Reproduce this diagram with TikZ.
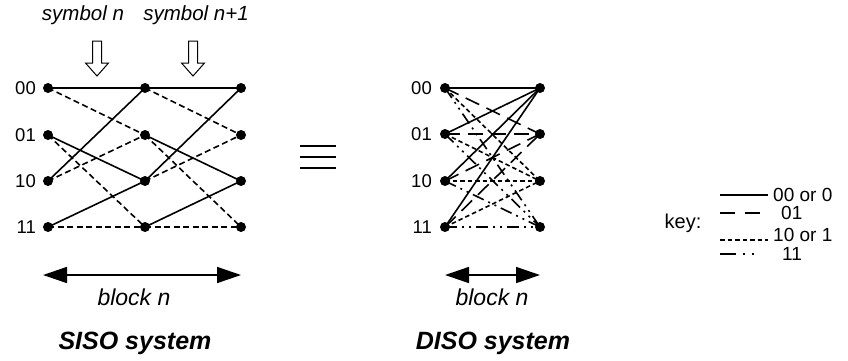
\documentclass[tikz,border=0pt]{standalone}
\usepackage{fontspec}
\setmainfont{Liberation Sans}
\usetikzlibrary{arrows.meta}
\begin{document}
\begin{tikzpicture}[x=1pt,y=-1pt,
  dot/.style={circle,fill=black,inner sep=0pt,minimum size=10pt},
  lbl/.style={anchor=east,inner sep=0pt,font=\fontsize{18.5}{20}\selectfont},
  tr/.style={line width=1.6pt},
  sisodash/.style={tr,dash pattern=on 6pt off 3.5pt},
  styA/.style={tr},
  styB/.style={tr,dash pattern=on 15pt off 8pt},
  styC/.style={tr,dash pattern=on 4.5pt off 3pt},
  styD/.style={tr,dash pattern=on 12pt off 5pt on 2pt off 5pt on 2pt off 5pt},
  itext/.style={inner sep=0pt,font=\fontsize{20.5}{22}\selectfont\itshape},
  blocktext/.style={inner sep=0pt,font=\fontsize{23}{25}\selectfont\itshape},
  btext/.style={inner sep=0pt,font=\fontsize{25}{27}\selectfont\bfseries\itshape},
  keytext/.style={inner sep=0pt,anchor=west,font=\fontsize{19}{20}\selectfont},
  blockarrow/.style={line width=1.6pt,{Triangle[length=24pt,width=16pt]}-{Triangle[length=24pt,width=16pt]}},
  openarrow/.style={line width=1pt,draw=black,fill=white,line join=miter}
]
\useasboundingbox (0,0) rectangle (848,360);

% ---------- SISO trellis ----------
\foreach \c/\x in {a/48,b/145,c/241}{
  \foreach \r/\y in {0/88,1/135,2/181,3/227}{
    \node[dot] (s\c\r) at (\x,\y) {};
  }
}
\node[lbl] (sl0) at (36,88) {00};
\node[lbl] (sl1) at (36,135) {01};
\node[lbl] (sl2) at (36,181) {10};
\node[lbl] (sl3) at (36,227) {11};

\foreach \p/\q in {a/b,b/c}{
  \draw[tr] (s\p0.center) -- (s\q0.center);
  \draw[sisodash] (s\p0.center) -- (s\q1.center);
  \draw[tr] (s\p1.center) -- (s\q2.center);
  \draw[sisodash] (s\p1.center) -- (s\q3.center);
  \draw[tr] (s\p2.center) -- (s\q0.center);
  \draw[sisodash] (s\p2.center) -- (s\q1.center);
  \draw[tr] (s\p3.center) -- (s\q2.center);
  \draw[sisodash] (s\p3.center) -- (s\q3.center);
}

% open arrows
\foreach \x in {97,193}{
  \draw[openarrow] (\x-4.5,41) -- (\x+4.5,41) -- (\x+4.5,63) -- (\x+11.5,63)
     -- (\x,76) -- (\x-11.5,63) -- (\x-4.5,63) -- cycle;
}
\node[itext] (symn) at (83,15) {symbol n};
\node[itext] (symn1) at (196,15) {symbol n+1};

% block arrow SISO
\coordinate (sba1) at (43,275);
\coordinate (sba2) at (241,275);
\draw[blockarrow] (sba1) -- (sba2);
\node[blocktext] (sblock) at (134,297) {block n};
\node[btext] (siso) at (135,343) {SISO system};

% equivalence sign
\coordinate (e1) at (300,146); \coordinate (e1b) at (336,146);
\coordinate (e2) at (300,157); \coordinate (e2b) at (336,157);
\coordinate (e3) at (300,168); \coordinate (e3b) at (336,168);
\draw[line width=1.3pt] (e1) -- (e1b) (e2) -- (e2b) (e3) -- (e3b);

% ---------- DISO trellis ----------
\foreach \c/\x in {L/445,R/540}{
  \foreach \r/\y in {0/88,1/134,2/181,3/227}{
    \node[dot] (d\c\r) at (\x,\y) {};
  }
}
\node[lbl] (dl0) at (432,88) {00};
\node[lbl] (dl1) at (432,134) {01};
\node[lbl] (dl2) at (432,181) {10};
\node[lbl] (dl3) at (432,227) {11};

\foreach \i in {0,1,2,3}{
  \draw[styA] (dL\i.center) -- (dR0.center);
  \draw[styB] (dL\i.center) -- (dR1.center);
  \draw[styC] (dL\i.center) -- (dR2.center);
  \draw[styD] (dL\i.center) -- (dR3.center);
}

\coordinate (dba1) at (445,275);
\coordinate (dba2) at (540,275);
\draw[blockarrow] (dba1) -- (dba2);
\node[blocktext] (dblock) at (492,297) {block n};
\node[btext] (diso) at (493,343) {DISO system};

% ---------- key ----------
\node[inner sep=0pt,font=\fontsize{20}{21}\selectfont] (key) at (683,223) {key:};
\coordinate (k1a) at (720,195); \coordinate (k1b) at (768,195);
\coordinate (k2a) at (720,213); \coordinate (k2b) at (762,213);
\coordinate (k3a) at (720,240); \coordinate (k3b) at (768,240);
\coordinate (k4a) at (720,254); \coordinate (k4b) at (760,254);
\draw[styA] (k1a) -- (k1b);
\draw[tr,dash pattern=on 15pt off 10pt] (k2a) -- (k2b);
\draw[styC] (k3a) -- (k3b);
\draw[tr,dash pattern=on 16pt off 7pt on 2pt off 7pt on 2pt off 7pt] (k4a) -- (k4b);
\node[keytext] (kt1) at (773,195) {00 or 0};
\node[keytext] (kt2) at (781,213) {01};
\node[keytext] (kt3) at (773,235) {10 or 1};
\node[keytext] (kt4) at (782,254) {11};
\end{tikzpicture}
\end{document}
